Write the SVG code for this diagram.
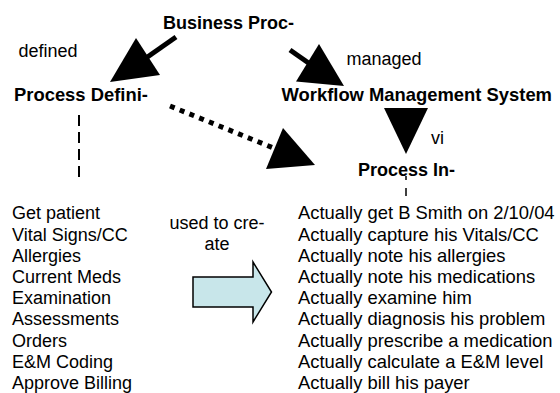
<svg xmlns="http://www.w3.org/2000/svg" width="560" height="393" viewBox="0 0 560 393">
<style>
text{font-family:"Liberation Sans",Arial,sans-serif;font-size:18px;fill:#000}
.b{font-weight:bold}
.w{font-size:18.4px}
.thick{stroke:#000;stroke-width:5;fill:none}
.head{fill:#000;stroke:none}
</style>
<rect width="560" height="393" fill="#fff"/>
<g id="connectors">
<line class="thick" x1="176" y1="37" x2="146" y2="58"/>
<polygon class="head" points="136,38 160,75 110,82"/>
<line class="thick" x1="290" y1="50" x2="310" y2="64"/>
<polygon class="head" points="319,44 296,81.5 344,86"/>
<polygon class="head" points="384,108 428,108 406,154"/>
<line class="thick" x1="170" y1="106" x2="276" y2="149" stroke-dasharray="5 5.5"/>
<polygon class="head" points="283,128 266,169 315,165"/>
<line x1="79" y1="115" x2="79" y2="183" stroke="#000" stroke-width="2" stroke-dasharray="11 6"/>
<path d="M406 176 V180 M406 188 V196" stroke="#000" stroke-width="1.5" fill="none"/>
</g>
<g id="business-process"><text class="b" x="163" y="29">Business Proc-</text></g>
<g id="label-defined"><text x="18.5" y="57">defined</text></g>
<g id="label-managed"><text x="346.5" y="65">managed</text></g>
<g id="process-definition"><text class="b w" x="14" y="101">Process Defini-</text></g>
<g id="workflow-management-system"><text class="b w" x="281.5" y="101">Workflow Management System</text></g>
<g id="label-vi"><text x="431" y="144">vi</text></g>
<g id="process-instance"><text class="b" x="358" y="176">Process In-</text></g>
<g id="definition-steps">
<text x="12" y="219.3">Get patient</text>
<text x="12" y="240.5">Vital Signs/CC</text>
<text x="12" y="261.7">Allergies</text>
<text x="12" y="282.9">Current Meds</text>
<text x="12" y="304.1">Examination</text>
<text x="12" y="325.3">Assessments</text>
<text x="12" y="346.5">Orders</text>
<text x="12" y="367.7">E&amp;M Coding</text>
<text x="12" y="388.9">Approve Billing</text>
</g>
<g id="used-to-create">
<text x="217" y="229" text-anchor="middle">used to cre-</text>
<text x="217" y="250" text-anchor="middle">ate</text>
<path d="M193 277 H253 V262 L271.5 292 L253 322 V307 H193 Z" fill="#c8e6ea" stroke="#000" stroke-width="1.5" stroke-linejoin="miter"/>
</g>
<g id="instance-steps" class="w">
<text class="w" x="298" y="219.3">Actually get B Smith on 2/10/04</text>
<text class="w" x="298" y="240.5">Actually capture his Vitals/CC</text>
<text class="w" x="298" y="261.7">Actually note his allergies</text>
<text class="w" x="298" y="282.9">Actually note his medications</text>
<text class="w" x="298" y="304.1">Actually examine him</text>
<text class="w" x="298" y="325.3">Actually diagnosis his problem</text>
<text class="w" x="298" y="346.5">Actually prescribe a medication</text>
<text class="w" x="298" y="367.7">Actually calculate a E&amp;M level</text>
<text class="w" x="298" y="388.9">Actually bill his payer</text>
</g>
</svg>
